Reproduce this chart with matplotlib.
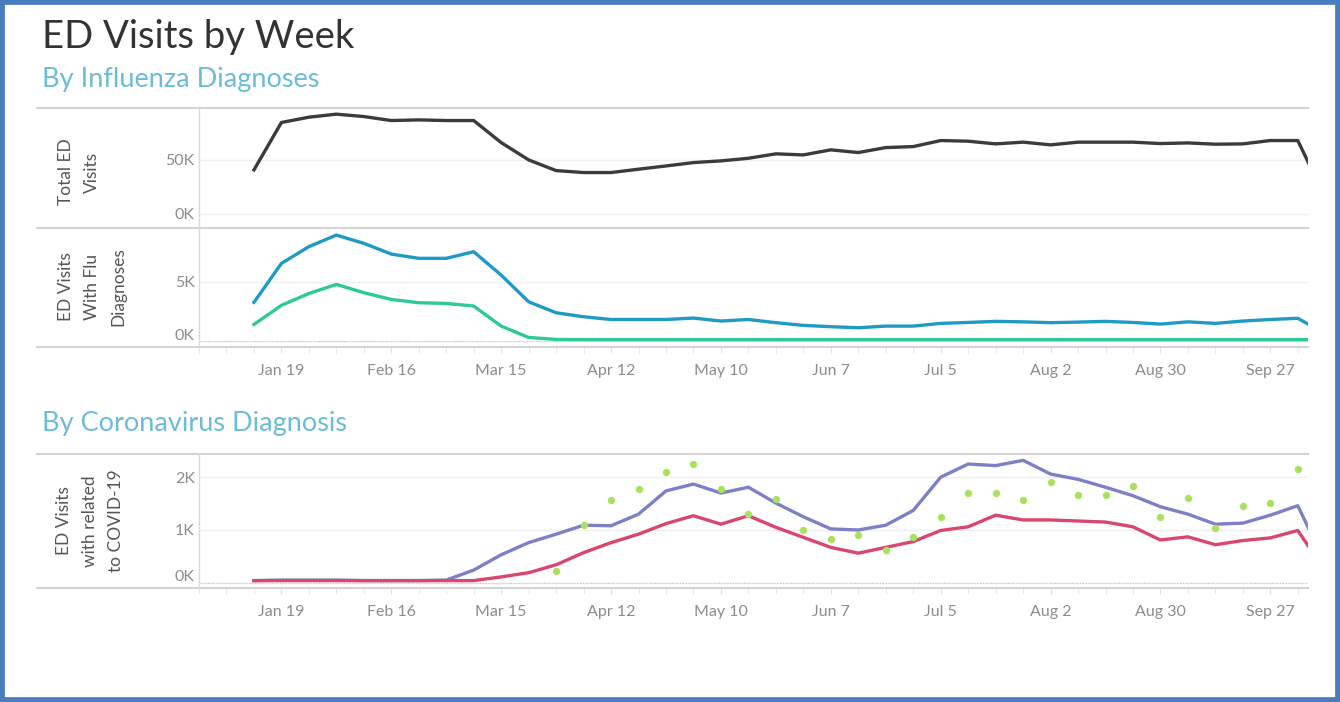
import numpy as np
import pandas as pd
import matplotlib
matplotlib.use("Agg")
import matplotlib.pyplot as plt
import matplotlib.dates as mdates
from matplotlib.lines import Line2D
from matplotlib.patches import Rectangle
from matplotlib.transforms import ScaledTranslation

plt.rcParams['font.family'] = ['Lato', 'DejaVu Sans']

# weekly data, week ending dates
weeks = pd.date_range("2020-01-12", periods=40, freq="7D")

total_ed = [40.7, 84.6, 89.5, 92.3, 90.1, 86.4, 87.0, 86.4, 86.4, 66.0,
            50.0, 40.1, 38.3, 38.3, 41.4, 44.4, 47.5, 49.1, 51.5, 55.6,
            54.6, 59.3, 56.8, 61.4, 62.3, 67.9, 67.3, 64.8, 66.4, 63.9,
            66.4, 66.4, 66.4, 65.1, 65.7, 64.5, 64.8, 67.9, 67.9, 15.0]

flu_ed = [3.25, 6.55, 7.97, 8.95, 8.25, 7.34, 6.98, 6.98, 7.54, 5.56,
          3.30, 2.37, 2.03, 1.80, 1.80, 1.80, 1.92, 1.67, 1.80, 1.53,
          1.30, 1.19, 1.10, 1.24, 1.24, 1.47, 1.55, 1.64, 1.60, 1.53,
          1.58, 1.64, 1.55, 1.41, 1.60, 1.47, 1.67, 1.80, 1.90, 0.60]

flu_dx = [1.38, 3.00, 4.00, 4.77, 4.07, 3.50, 3.22, 3.16, 2.94, 1.24,
          0.28, 0.11, 0.10, 0.10, 0.10, 0.10, 0.10, 0.10, 0.10, 0.10,
          0.10, 0.10, 0.10, 0.10, 0.10, 0.10, 0.10, 0.10, 0.10, 0.10,
          0.10, 0.10, 0.10, 0.10, 0.10, 0.10, 0.10, 0.10, 0.10, 0.10]

covid_related = [0.04, 0.05, 0.05, 0.05, 0.04, 0.04, 0.04, 0.05, 0.24, 0.53,
                 0.76, 0.92, 1.09, 1.08, 1.30, 1.74, 1.87, 1.70, 1.81, 1.51,
                 1.25, 1.02, 1.00, 1.09, 1.37, 2.00, 2.25, 2.22, 2.32, 2.06,
                 1.96, 1.81, 1.65, 1.44, 1.30, 1.11, 1.13, 1.28, 1.46, 0.37]

covid_dx = [0.04, 0.04, 0.04, 0.04, 0.04, 0.04, 0.04, 0.04, 0.04, 0.11,
            0.19, 0.34, 0.57, 0.76, 0.92, 1.12, 1.27, 1.11, 1.27, 1.05,
            0.86, 0.67, 0.56, 0.67, 0.78, 0.99, 1.06, 1.28, 1.19, 1.19,
            1.17, 1.15, 1.06, 0.81, 0.87, 0.72, 0.80, 0.85, 0.99, 0.22]

covid_dots = [np.nan] * 11 + [
    0.23, 1.09, 1.56, 1.78, 2.09, 2.25, 1.78, 1.30, 1.58, 1.00,
    0.82, 0.91, 0.62, 0.86, 1.24, 1.71, 1.71, 1.56, 1.90, 1.66,
    1.66, 1.84, 1.24, 1.60, 1.03, 1.46, 1.52, 2.16] + [np.nan]

tick_dates = ["2020-01-19", "2020-02-16", "2020-03-15", "2020-04-12", "2020-05-10",
              "2020-06-07", "2020-07-05", "2020-08-02", "2020-08-30", "2020-09-27"]
tick_labels = ["Jan 19", "Feb 16", "Mar 15", "Apr 12", "May 10",
               "Jun 7", "Jul 5", "Aug 2", "Aug 30", "Sep 27"]

W, H = 1340, 702
fig = plt.figure(figsize=(W / 100, H / 100), dpi=100)


def rect(x0, y0, x1, y1):
    return [x0 / W, 1 - y1 / H, (x1 - x0) / W, (y1 - y0) / H]


x = mdates.date2num(weeks.to_pydatetime())
xmin = x[0] - 14
xmax = x[0] + 268.6
minor_x = mdates.date2num(pd.date_range("2019-12-29", periods=41, freq="7D").to_pydatetime())
major_x = mdates.date2num(pd.to_datetime(tick_dates).to_pydatetime())

tick_col = '#8c8c8c'


def style(ax, yticks, ylabels, ylim, show_x):
    for s in ax.spines.values():
        s.set_visible(False)
    ax.set_facecolor('none')
    ax.set_yticks(yticks)
    ax.set_yticklabels(ylabels)
    ax.tick_params(axis='y', length=0, pad=3, labelsize=11.5, labelcolor=tick_col)
    ax.grid(axis='y', color='#efefef', lw=1)
    ax.set_axisbelow(True)
    ax.set_xticks(major_x)
    ax.set_xticks(minor_x, minor=True)
    if show_x:
        ax.set_xticklabels(tick_labels)
        ax.tick_params(axis='x', which='both', length=4, color='#e2e2e2',
                       pad=8, labelsize=11.5, labelcolor=tick_col)
    else:
        ax.tick_params(axis='x', which='both', length=0, labelbottom=False)
    # limits last, set_xticks can widen the view
    ax.set_xlim(xmin, xmax)
    ax.set_ylim(*ylim)


def shift_zero_label(ax, px):
    lab = ax.get_yticklabels()[0]
    lab.set_transform(lab.get_transform() + ScaledTranslation(0, px / 100, fig.dpi_scale_trans))


# top panel: total ED visits
ax1 = fig.add_axes(rect(199, 108, 1308, 228))
ax1.plot(x, np.array(total_ed) * 1000, color='#3b3b3b', lw=2.4)
style(ax1, [0, 50000], ["0K", "50K"], (-13000, 98000), False)

# middle panel: ED visits with flu diagnoses
ax2 = fig.add_axes(rect(199, 228, 1308, 347))
ax2.axhline(0, color='#c4c4c4', lw=0.8, ls=(0, (1, 1.5)))
ax2.plot(x, np.array(flu_ed) * 1000, color='#1f9ac4', lw=2.4)
ax2.plot(x, np.array(flu_dx) * 1000, color='#2dc99b', lw=2.4)
style(ax2, [0, 5000], ["0K", "5K"], (-530, 9550), True)
shift_zero_label(ax2, 6)

# bottom panel: coronavirus
ax3 = fig.add_axes(rect(199, 454, 1308, 588))
ax3.axhline(0, color='#c4c4c4', lw=0.8, ls=(0, (1, 1.5)))
ax3.plot(x, np.array(covid_related) * 1000, color='#7c80c6', lw=2.4)
ax3.plot(x, np.array(covid_dx) * 1000, color='#d9466f', lw=2.4)
ax3.scatter(x, np.array(covid_dots) * 1000, s=28, color='#a9e060', zorder=3, lw=0)
style(ax3, [0, 1000, 2000], ["0K", "1K", "2K"], (-100, 2440), True)
shift_zero_label(ax3, 7)

# panel frame lines
line_col = '#d3d3d3'
for yy in [108, 228, 347, 454, 588]:
    fig.add_artist(Line2D([37 / W, 1308 / W], [1 - yy / H] * 2, color=line_col, lw=1.5))
for y0, y1 in [(108, 347), (454, 588)]:
    fig.add_artist(Line2D([199 / W] * 2, [1 - y0 / H, 1 - y1 / H], color='#dadada', lw=1))

# titles
fig.text(42 / W, 1 - 37 / H, "ED Visits by Week", fontsize=27.5, color='#333333', va='center')
fig.text(42 / W, 1 - 79 / H, "By Influenza Diagnoses", fontsize=19.5, color='#6cbcd8', va='center')
fig.text(42 / W, 1 - 424 / H, "By Coronavirus Diagnosis", fontsize=19.5, color='#6cbcd8', va='center')

# row labels
lab_kw = dict(rotation=90, ha='center', va='center', fontsize=12.5, color='#555555',
              multialignment='center', linespacing=1.8)
fig.text(79 / W, 1 - 172 / H, "Total ED\nVisits", **lab_kw)
fig.text(92 / W, 1 - 287 / H, "ED Visits\nWith Flu\nDiagnoses", **lab_kw)
fig.text(90 / W, 1 - 521 / H, "ED Visits\nwith related\nto COVID-19", **lab_kw)

# blue outer frame
fig.add_artist(Rectangle((0, 0), 1, 1, transform=fig.transFigure, fill=False,
                         ec='#4a7dbd', lw=7))

fig.savefig("out.png", dpi=100)
